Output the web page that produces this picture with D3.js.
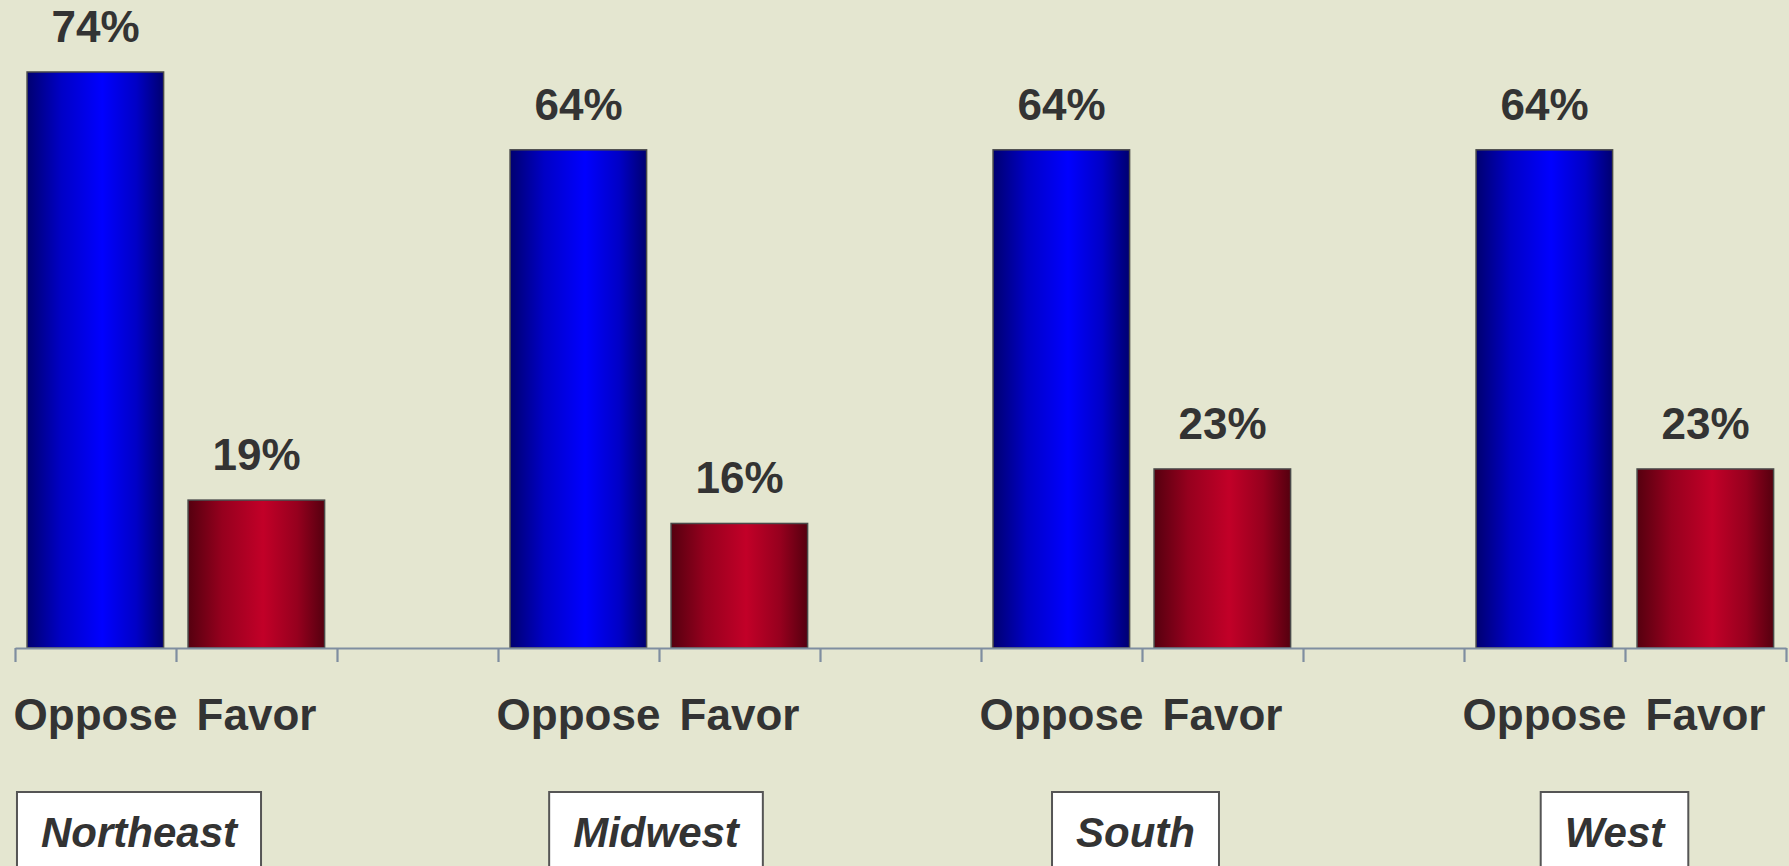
<!DOCTYPE html>
<html>
<head>
<meta charset="utf-8">
<script src="https://cdn.jsdelivr.net/npm/d3@7"></script>
<style>
  html, body { margin: 0; padding: 0; background: #E4E6D0; overflow: hidden; }
  svg { display: block; }
  text { font-family: "Liberation Sans", Arial, Helvetica, sans-serif; font-weight: bold; fill: #333333; }
</style>
</head>
<body>
<svg id="chart" width="1789" height="866"></svg>
<script>
// ---- data ----
const regions = ["Northeast", "Midwest", "South", "West"];
const seriesNames = ["Oppose", "Favor"];
const opposeValues = [74, 64, 64, 64];
const favorValues = [19, 16, 23, 23];

// ---- layout ----
const W = 1789, H = 866;
const axisLeft = 15, axisRight = 1786, baseY = 648;
const pxPerUnit = 7.784;
const boxShift = [-37, -3, -6.5, -10.5];

const svg = d3.select("#chart");
svg.append("rect").attr("width", W).attr("height", H).attr("fill", "#E4E6D0");

// slots: Oppose, Favor, gap per region (last gap dropped)
const slots = [];
regions.forEach((r, i) => {
  seriesNames.forEach((s, j) => {
    slots.push({ key: r + "|" + s, region: r, ri: i, series: s,
      value: j === 0 ? opposeValues[i] : favorValues[i] });
  });
  if (i < regions.length - 1) slots.push({ key: "gap" + i, gap: true });
});

const x = d3.scaleBand().domain(slots.map(d => d.key)).range([axisLeft, axisRight]).padding(0);
const y = d3.scaleLinear().domain([0, 100]).range([baseY, baseY - 100 * pxPerUnit]);
const bw = x.bandwidth();

// gradients
const defs = svg.append("defs");
function grad(id, edge, mid) {
  const g = defs.append("linearGradient").attr("id", id).attr("x1", "0%").attr("x2", "100%").attr("y1", "0%").attr("y2", "0%");
  g.append("stop").attr("offset", "0%").attr("stop-color", edge);
  g.append("stop").attr("offset", "25%").attr("stop-color", d3.interpolateRgb(edge, mid)(0.6));
  g.append("stop").attr("offset", "55%").attr("stop-color", mid);
  g.append("stop").attr("offset", "80%").attr("stop-color", d3.interpolateRgb(edge, mid)(0.6));
  g.append("stop").attr("offset", "100%").attr("stop-color", edge);
}
grad("gOppose", "#000070", "#0000FF");
grad("gFavor", "#55000F", "#C20028");

const bars = slots.filter(d => !d.gap);

// bars
svg.append("g").selectAll("rect").data(bars).join("rect")
  .attr("x", d => x(d.key) + bw * 0.075)
  .attr("width", bw * 0.848)
  .attr("y", d => y(d.value))
  .attr("height", d => y(0) - y(d.value))
  .attr("fill", d => d.series === "Oppose" ? "url(#gOppose)" : "url(#gFavor)")
  .attr("stroke", "#4A4A4A")
  .attr("stroke-width", 1.5);

// value labels
svg.append("g").selectAll("text").data(bars).join("text")
  .attr("x", d => x(d.key) + bw / 2)
  .attr("y", d => y(d.value) - 30)
  .attr("text-anchor", "middle")
  .attr("font-size", 44)
  .text(d => d.value + "%");

// axis with boundary ticks
const xi = d3.scaleLinear().domain([0, slots.length]).range([axisLeft, axisRight]);
const axisG = svg.append("g").attr("transform", `translate(0,${baseY})`)
  .call(d3.axisBottom(xi).tickValues(d3.range(0, slots.length + 1)).tickFormat("").tickSize(14).tickSizeOuter(0));
axisG.selectAll("path, line").attr("stroke", "#7F8EA0").attr("stroke-width", 2.2);

// category labels
svg.append("g").selectAll("text").data(bars).join("text")
  .attr("x", d => x(d.key) + bw / 2)
  .attr("y", 730)
  .attr("text-anchor", "middle")
  .attr("font-size", 44)
  .text(d => d.series);

// region boxes
regions.forEach((r, i) => {
  const x0 = x(r + "|" + seriesNames[0]);
  const x1 = x(r + "|" + seriesNames[1]) + bw;
  const cx = (x0 + x1) / 2 + boxShift[i];
  const g = svg.append("g");
  const rect = g.append("rect");
  const t = g.append("text")
    .attr("x", cx).attr("y", 847)
    .attr("text-anchor", "middle")
    .attr("font-size", 42)
    .attr("font-style", "italic")
    .text(r);
  const tw = t.node().getComputedTextLength();
  const boxW = tw + 48;
  rect.attr("x", cx - boxW / 2).attr("y", 792)
    .attr("width", boxW).attr("height", 120)
    .attr("fill", "#FFFFFF").attr("stroke", "#555555").attr("stroke-width", 2);
});
</script>
</body>
</html>
